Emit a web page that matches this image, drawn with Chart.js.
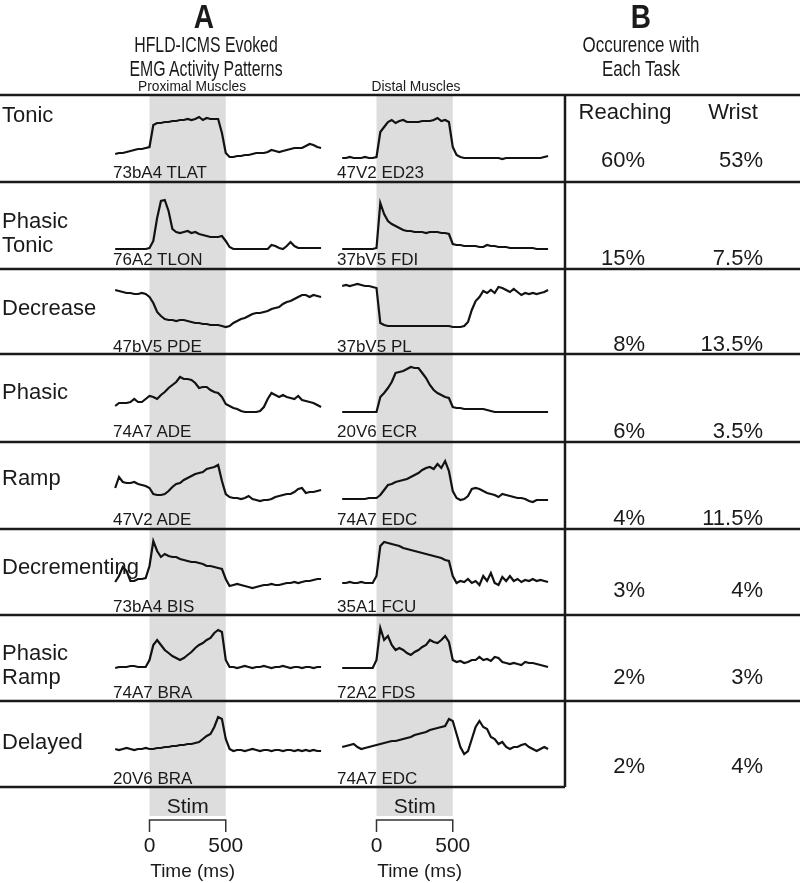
<!DOCTYPE html>
<html>
<head>
<meta charset="utf-8">
<script src="https://cdn.jsdelivr.net/npm/chart.js@4/dist/chart.umd.min.js"></script>
<style>
  body { margin: 0; background: #fff; }
  #wrap { position: relative; width: 800px; height: 883px; font-family: "Liberation Sans", Arial, sans-serif; color: #1a1a1a; }
  #wrap canvas { position: absolute; left: 0; top: 0; }
  .t { position: absolute; white-space: nowrap; line-height: 1; }
</style>
</head>
<body>
<div id="wrap">
  <canvas id="c" width="800" height="883" style="width:800px;height:883px"></canvas>
</div>
<script>
  // ======== Data ========
  const times = [-225, -200, -175, -150, -125, -100, -75, -50, -25, 0,
    25, 50, 75, 100, 125, 150, 175, 200, 225, 250,
    275, 300, 325, 350, 375, 400, 425, 450, 475, 500,
    525, 550, 575, 600, 625, 650, 675, 700, 725, 750,
    775, 800, 825, 850, 875, 900, 925, 950, 975, 1000,
    1025, 1050, 1075, 1100, 1125];
  const stimWindow = [0, 500];

  const patterns = ['Tonic', 'Phasic\nTonic', 'Decrease', 'Phasic', 'Ramp', 'Decrementing', 'Phasic\nRamp', 'Delayed'];
  const proxMuscles = ['73bA4 TLAT', '76A2 TLON', '47bV5 PDE', '74A7 ADE', '47V2 ADE', '73bA4 BIS', '74A7 BRA', '20V6 BRA'];
  const distMuscles = ['47V2 ED23', '37bV5 FDI', '37bV5 PL', '20V6 ECR', '74A7 EDC', '35A1 FCU', '72A2 FDS', '74A7 EDC'];
  const reaching = ['60%', '15%', '8%', '6%', '4%', '3%', '2%', '2%'];
  const wrist = ['53%', '7.5%', '13.5%', '3.5%', '11.5%', '4%', '3%', '4%'];

  // EMG amplitude (arbitrary units) for each pattern, proximal / distal example
  const tonicProx = [16,17,17,18,19,20,21,21,22,23, 45,47,47,48,48,49,49,50,50,51, 50,51,53,50,52,51,51,51,37,17, 13,13,14,14,15,15,16,17,17,17, 18,20,19,18,19,20,21,22,22,22, 24,26,25,23,22];
  const tonicDist = [12,12,13,12,12,12,13,12,12,13, 38,43,48,50,47,49,50,48,48,48, 48,49,49,49,50,52,49,50,48,23, 15,13,12,12,12,12,12,12,12,12, 12,12,11,12,12,12,12,12,12,12, 12,12,12,13,14];
  const phasicTonicProx = [8,8,8,8,8,8,8,8,8,9, 16,39,56,57,46,28,25,24,25,26, 24,25,23,22,21,20,20,20,21,16, 10,8,8,8,8,8,8,8,8,8, 8,12,11,9,8,11,15,11,9,9, 9,9,9,9,9];
  const phasicTonicDist = [8,8,8,8,8,8,8,8,8,9, 54,43,36,33,31,29,27,26,26,25, 25,25,24,25,25,25,24,24,23,13, 12,12,11,11,11,11,10,10,12,11, 11,10,10,10,9,9,9,9,9,9, 9,8,8,8,8];
  const decreaseProx = [54,53,52,51,51,50,50,51,50,47, 41,32,28,25,24,24,23,24,24,23, 22,21,21,20,20,19,19,19,18,17, 18,21,23,25,26,28,30,31,31,32, 33,35,36,37,40,42,43,45,47,49, 49,47,49,48,47];
  const decreaseDist = [58,59,58,59,60,59,58,58,57,56, 21,19,18,18,18,18,18,18,18,18, 18,18,18,18,18,18,18,18,18,17, 17,17,18,22,34,43,47,53,51,54, 51,57,56,54,52,55,52,49,51,50, 51,50,51,52,54];
  const phasicProx = [23,26,26,26,27,30,27,27,30,33, 32,30,34,37,41,44,47,52,50,50, 49,46,41,42,42,39,37,36,32,25, 23,21,20,18,17,17,17,17,18,22, 30,36,34,32,34,32,31,30,33,29, 28,27,26,24,22];
  const phasicDist = [17,17,17,17,17,17,17,17,17,17, 32,36,41,47,56,57,58,60,62,61, 61,56,51,44,39,36,34,32,31,22, 21,21,20,20,20,20,20,20,19,18, 17,17,17,17,17,17,17,17,17,17, 17,17,17,17,17];
  const rampProx = [29,40,35,34,34,35,33,32,31,29, 23,22,22,23,26,30,33,34,37,39, 41,43,44,45,48,49,50,52,36,23, 20,19,19,18,19,21,18,17,16,17, 17,18,20,21,22,23,23,25,28,29, 24,25,25,26,27];
  const rampDist = [18,18,18,18,18,18,18,19,19,19, 22,27,32,33,35,36,37,38,40,42, 44,47,49,50,48,53,49,56,46,26, 19,17,18,21,28,29,28,26,24,23, 22,20,23,22,21,20,19,19,18,16, 15,17,17,17,17];
  const decrementingProx = [22,28,37,33,23,23,25,25,26,38, 63,53,47,50,48,47,47,45,44,43, 42,42,41,40,38,38,37,36,35,25, 18,19,20,19,18,17,16,17,18,19, 19,20,19,19,20,21,21,22,21,22, 23,23,24,25,25];
  const decrementingDist = [21,21,22,21,21,22,21,21,21,28, 58,62,61,60,59,58,56,55,54,53, 52,51,50,49,48,47,46,44,43,28, 21,23,22,25,21,23,19,28,23,31, 21,19,27,23,28,23,25,22,24,23, 25,23,24,23,22];
  const phasicRampProx = [22,23,23,23,24,24,23,23,23,30, 45,50,45,40,37,34,32,30,32,35, 38,42,45,47,50,52,57,60,58,30, 23,23,22,23,24,23,22,23,23,24, 23,22,23,23,24,23,22,23,23,22, 23,23,22,23,23];
  const phasicRampDist = [22,22,22,22,22,22,22,22,22,30, 62,50,54,45,40,42,40,37,35,38, 40,43,45,50,48,47,50,54,48,30, 28,29,27,28,30,30,33,30,31,29, 33,32,28,27,26,27,26,25,28,27, 27,26,25,24,23];
  const delayedProx = [27,26,27,28,27,26,27,27,28,27, 27,28,28,29,29,30,30,31,31,32, 32,33,34,37,40,42,49,59,57,37, 27,25,26,26,25,26,27,26,25,26, 26,25,26,26,25,26,26,25,26,25, 26,25,26,25,25];
  const delayedDist = [29,30,31,32,29,27,28,29,30,31, 32,33,34,35,35,36,37,38,39,41, 42,43,44,46,47,48,49,50,57,55, 42,29,22,25,37,49,55,49,47,39, 37,32,34,29,27,29,29,31,32,29, 27,25,27,29,27];

  const proxTraces = [tonicProx, phasicTonicProx, decreaseProx, phasicProx, rampProx, decrementingProx, phasicRampProx, delayedProx];
  const distTraces = [tonicDist, phasicTonicDist, decreaseDist, phasicDist, rampDist, decrementingDist, phasicRampDist, delayedDist];

  // ======== Layout ========
  const W = 800, H = 883;
  const rowTops = [95, 182, 269, 354, 442, 529, 615, 701];
  const tableBottom = 787;
  const splitX = 565;
  const pxPerMs = 0.1525;
  const zeroPx = { xL: 149.5, xR: 376.5 };

  function xScale(z) {
    const min = -z / pxPerMs;
    return { type: 'linear', display: false, min: min, max: min + W / pxPerMs };
  }
  function yScale(base) {
    return { type: 'linear', display: false, min: base - H, max: base };
  }

  const scales = { xL: xScale(zeroPx.xL), xR: xScale(zeroPx.xR) };
  const datasets = [];
  rowTops.forEach((top, i) => {
    scales['y' + i] = yScale(top + 75);
    [['xL', proxTraces[i]], ['xR', distTraces[i]]].forEach(([xid, vals]) => {
      datasets.push({
        data: times.map((t, j) => ({ x: t, y: vals[j] })),
        xAxisID: xid,
        yAxisID: 'y' + i,
        borderColor: '#121212',
        borderWidth: 2.2,
        pointRadius: 0,
        tension: 0,
        fill: false
      });
    });
  });

  // ======== Stim bands, table lines, time scale bars ========
  const decor = {
    id: 'decor',
    beforeDatasetsDraw(chart) {
      const ctx = chart.ctx;
      ctx.save();
      ctx.fillStyle = '#dddddd';
      ['xL', 'xR'].forEach(id => {
        const a = chart.scales[id].getPixelForValue(stimWindow[0]);
        const b = chart.scales[id].getPixelForValue(stimWindow[1]);
        ctx.fillRect(a, 96, b - a, 720);
      });
      ctx.strokeStyle = '#1a1a1a';
      ctx.lineWidth = 2.5;
      ctx.beginPath();
      rowTops.forEach(y => { ctx.moveTo(0, y); ctx.lineTo(W, y); });
      ctx.moveTo(0, tableBottom); ctx.lineTo(splitX, tableBottom);
      ctx.moveTo(splitX, rowTops[0]); ctx.lineTo(splitX, tableBottom);
      ctx.stroke();
      ctx.lineWidth = 1.5;
      ctx.strokeStyle = '#333';
      ['xL', 'xR'].forEach(id => {
        const a = chart.scales[id].getPixelForValue(stimWindow[0]);
        const b = chart.scales[id].getPixelForValue(stimWindow[1]);
        ctx.beginPath();
        ctx.moveTo(a, 832); ctx.lineTo(a, 820); ctx.lineTo(b, 820); ctx.lineTo(b, 832);
        ctx.stroke();
      });
      ctx.restore();
    }
  };

  const chart = new Chart(document.getElementById('c'), {
    type: 'line',
    data: { datasets: datasets },
    options: {
      responsive: false,
      devicePixelRatio: 1,
      animation: false,
      layout: { padding: 0 },
      plugins: { legend: { display: false }, tooltip: { enabled: false } },
      scales: scales
    },
    plugins: [decor]
  });

  // ======== Text ========
  const wrap = document.getElementById('wrap');
  function label(text, x, y, size, align, sx, weight) {
    const d = document.createElement('div');
    d.className = 't';
    d.style.fontSize = size + 'px';
    if (weight) d.style.fontWeight = weight;
    d.style.left = x + 'px';
    d.style.top = y + 'px';
    d.style.textAlign = align === 'right' ? 'right' : align === 'center' ? 'center' : 'left';
    const tx = align === 'center' ? '-50%' : align === 'right' ? '-100%' : '0';
    d.style.transformOrigin = align === 'left' ? 'left center' : align === 'right' ? 'right center' : 'center';
    d.style.transform = 'translate(' + tx + ',-50%)' + (sx ? ' scaleX(' + sx + ')' : '');
    d.style.lineHeight = '1.07';
    d.innerHTML = text.split('\n').join('<br>');
    wrap.appendChild(d);
    return d;
  }

  label('A', 204, 17, 33, 'center', 0.85, 'bold');
  label('HFLD-ICMS Evoked\nEMG Activity Patterns', 206, 57, 22, 'center', 0.72);
  label('B', 641, 17, 33, 'center', 0.85, 'bold');
  label('Occurence with\nEach Task', 641, 57, 22, 'center', 0.77);
  label('Proximal Muscles', 192, 86, 15, 'center', 0.92);
  label('Distal Muscles', 416, 86, 15, 'center', 0.92);
  label('Reaching', 625, 112, 22, 'center');
  label('Wrist', 733, 112, 22, 'center');

  const patternY = [115, 233, 308, 392, 478, 567, 665, 742];
  const pctY = [160, 258, 344, 431, 518, 590, 677, 766];
  patterns.forEach((p, i) => {
    label(p, 2, patternY[i], 22, 'left');
    label(proxMuscles[i], 113, rowTops[i] + 78, 17, 'left');
    label(distMuscles[i], 337, rowTops[i] + 78, 17, 'left');
    label(reaching[i], 645, pctY[i], 22, 'right');
    label(wrist[i], 763, pctY[i], 22, 'right');
  });

  ['xL', 'xR'].forEach(id => {
    const a = chart.scales[id].getPixelForValue(stimWindow[0]);
    const b = chart.scales[id].getPixelForValue(stimWindow[1]);
    label('Stim', (a + b) / 2, 806, 21, 'center');
    label(String(stimWindow[0]), a, 845, 21, 'center');
    label(String(stimWindow[1]), b, 845, 21, 'center');
    label('Time (ms)', (a + b) / 2 + 5, 871, 19, 'center');
  });
</script>
</body>
</html>
